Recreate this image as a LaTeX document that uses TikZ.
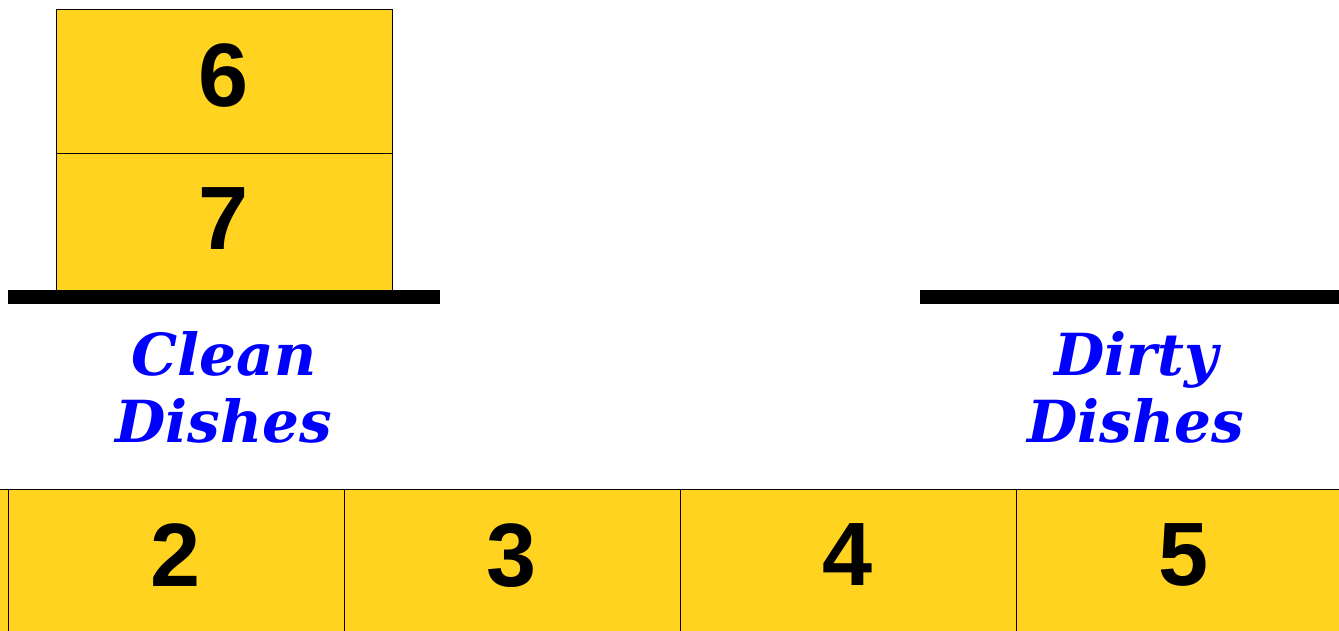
\documentclass[tikz,border=0pt]{standalone}
\usepackage{fontspec}
\newfontfamily\numfont{Liberation Sans}
\newfontfamily\lblfont{DejaVu Serif}
\usetikzlibrary{positioning}
\definecolor{dishyellow}{HTML}{FFD320}
\definecolor{lblblue}{HTML}{0000FF}

\begin{document}
\begin{tikzpicture}[x=1pt, y=-1pt,
  dish/.style={draw=black, line width=0.8pt, fill=dishyellow, minimum width=336pt, minimum height=144pt, inner sep=0pt, outer sep=0pt, text depth=12pt, font=\numfont\bfseries\fontsize{90}{90}\selectfont},
  shelf/.style={fill=black, minimum width=432pt, minimum height=14pt, inner sep=0pt},
  lbl/.style={align=center, text=lblblue, font=\lblfont\bfseries\itshape\fontsize{58}{67}\selectfont}]
\useasboundingbox (0,0) rectangle (1339,630);
\clip (0,0) rectangle (1339,630);
% stack of clean dishes
\node[dish] (d6) at (224,81) {6};
\node[dish, below=0pt of d6] (d7) {7};
\node[shelf] (cleanshelf) at (224,297) {};
\node[shelf] (dirtyshelf) at (1136,297) {};
\node[lbl, anchor=base] (cleanlbl) at (224,442) {Clean\\Dishes};
\node[lbl, anchor=base] (dirtylbl) at (1136,442) {Dirty\\Dishes};
% row of dishes
\node[dish] (d1) at (-160,561) {};
\foreach \n [count=\p from 1] in {2,...,5}
  \node[dish, right=0pt of d\p] (d\n) {\n};
\end{tikzpicture}
\end{document}
